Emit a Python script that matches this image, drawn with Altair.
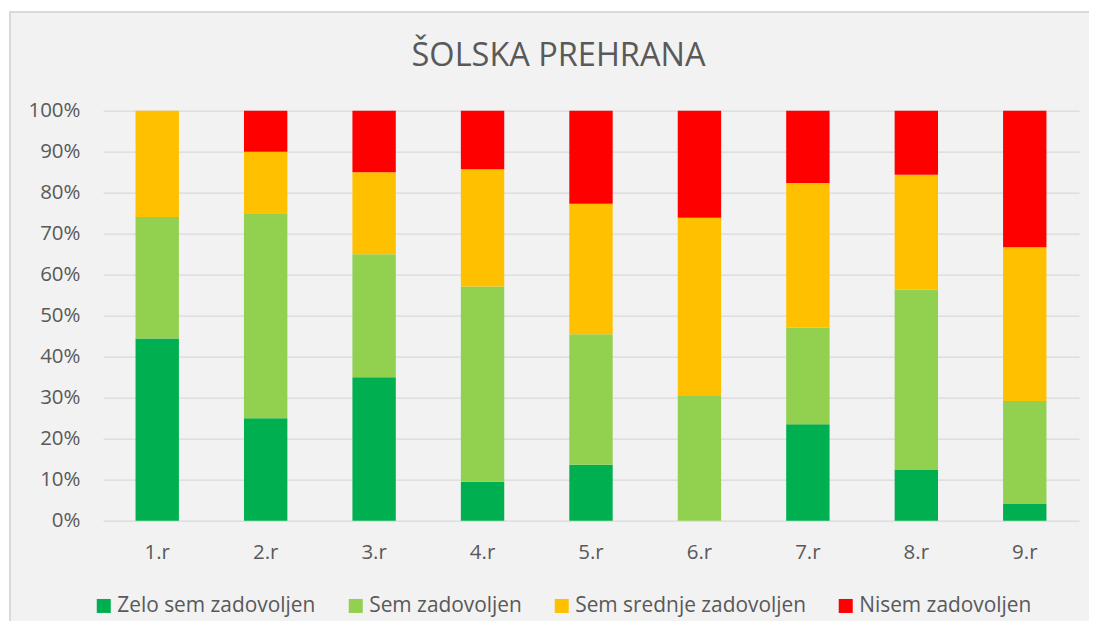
import altair as alt
import pandas as pd

grades = ["1.r", "2.r", "3.r", "4.r", "5.r", "6.r", "7.r", "8.r", "9.r"]
categories = ["Zelo sem zadovoljen", "Sem zadovoljen", "Sem srednje zadovoljen", "Nisem zadovoljen"]
colors = ["#00B050", "#92D050", "#FFC000", "#FF0000"]

zelo = [44.4, 25.0, 35.0, 9.5, 13.6, 0.0, 23.5, 12.5, 4.2]
sem = [29.6, 50.0, 30.0, 47.6, 31.8, 30.4, 23.5, 43.8, 25.0]
srednje = [25.9, 15.0, 20.0, 28.6, 31.8, 43.5, 35.3, 28.1, 37.5]
nisem = [0.0, 10.0, 15.0, 14.3, 22.7, 26.1, 17.6, 15.6, 33.3]

y_ticks = [0, 0.1, 0.2, 0.3, 0.4, 0.5, 0.6, 0.7, 0.8, 0.9, 1.0]

series = [zelo, sem, srednje, nisem]
rows = []
for ci, (cat, vals) in enumerate(zip(categories, series)):
    for g, v in zip(grades, vals):
        rows.append({"razred": g, "kategorija": cat, "delez": v, "idx": ci})
df = pd.DataFrame(rows)

TEXT = "#595959"
FONT = "Open Sans"
W, H = 976, 410

bars = alt.Chart(df).mark_bar().encode(
    x=alt.X("razred:N", sort=grades,
            scale=alt.Scale(paddingInner=0.6, paddingOuter=0.3),
            axis=alt.Axis(title=None, labelAngle=0, domain=False, ticks=False,
                          labelPadding=22, labelFontSize=20.5, labelFont=FONT,
                          labelColor=TEXT, grid=False)),
    y=alt.Y("delez:Q", stack="normalize",
            scale=alt.Scale(domain=[0, 1], nice=False),
            axis=alt.Axis(title=None, values=y_ticks, format=".0%", domain=False,
                          ticks=False, tickSize=0, labelPadding=23,
                          labelFontSize=20.5, labelFont=FONT, labelColor=TEXT,
                          grid=True, gridColor="#D9D9D9", gridWidth=1.3)),
    color=alt.Color("kategorija:N",
                    scale=alt.Scale(domain=categories, range=colors),
                    legend=alt.Legend(title=None, orient="none", direction="horizontal",
                                      columns=4, legendX=-9.7, legendY=484.5,
                                      symbolType="square", symbolSize=196,
                                      symbolStrokeWidth=0, labelOffset=3,
                                      columnPadding=29, labelFontSize=20.9,
                                      labelLimit=600,
                                      labelFont=FONT, labelColor=TEXT, padding=0)),
    order=alt.Order("idx:Q", sort="ascending"),
)

deco = pd.DataFrame({"a": [0]})
white_v = alt.Chart(deco).mark_rule(color="white", strokeWidth=1.2).encode(
    x=alt.value(-94.5), y=alt.value(-103), y2=alt.value(540))
white_h = alt.Chart(deco).mark_rule(color="white", strokeWidth=3.2).encode(
    x=alt.value(-96), x2=alt.value(1000), y=alt.value(-101.2))
border_v = alt.Chart(deco).mark_rule(color="#D9D9D9", strokeWidth=2).encode(
    x=alt.value(-93), y=alt.value(-99.7), y2=alt.value(540))
border_h = alt.Chart(deco).mark_rule(color="#D9D9D9", strokeWidth=2).encode(
    x=alt.value(-94), x2=alt.value(1000), y=alt.value(-98.7))

chart = alt.layer(bars, white_v, white_h, border_v, border_h).properties(
    width=W, height=H,
    title=alt.TitleParams("ŠOLSKA PREHRANA", fontSize=32.5, font=FONT, color=TEXT,
                          fontWeight="normal", anchor="middle", frame="group",
                          offset=-65, dx=-32.5),
    autosize=alt.AutoSizeParams(type="none"),
    padding={"left": 95, "top": 102.7, "right": 10, "bottom": 100},
).configure(background="#F2F2F2").configure_view(stroke=None)

chart.save("out.html", embed_options={"renderer": "svg", "actions": False})
